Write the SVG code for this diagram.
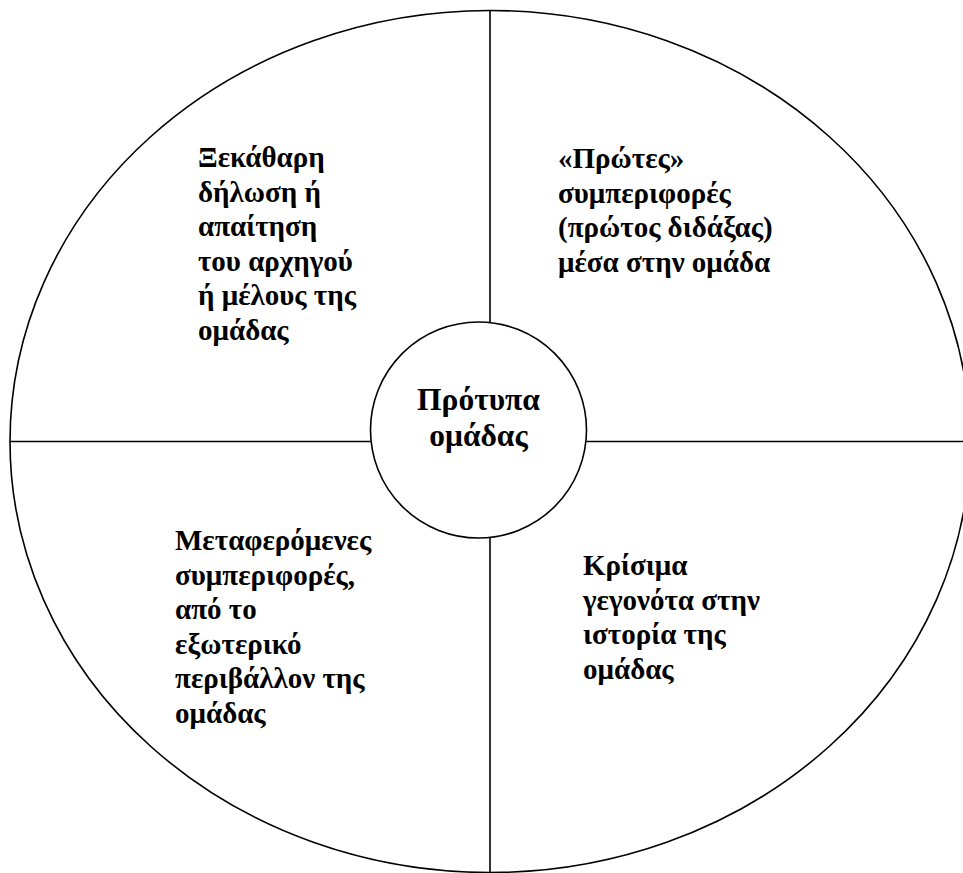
<svg xmlns="http://www.w3.org/2000/svg" width="963" height="873" viewBox="0 0 963 873">
<style>
.ln{stroke:#000;stroke-width:1.6;fill:none}
.t{font-family:"Liberation Serif","Times New Roman",serif;font-weight:bold;font-size:29px;fill:#000}
.c{text-anchor:middle;font-size:31.5px}
</style>
<rect width="963" height="873" fill="#fff"/>
<g id="connectors">
<ellipse class="ln" cx="490" cy="441.5" rx="480" ry="431"/>
<line class="ln" x1="490" y1="10" x2="490" y2="322"/>
<line class="ln" x1="490" y1="537" x2="490" y2="873"/>
<line class="ln" x1="10" y1="441.5" x2="370.5" y2="441.5"/>
<line class="ln" x1="586.5" y1="441.5" x2="963" y2="441.5"/>
</g>
<g id="center">
<circle class="ln" cx="478.5" cy="430" r="108" fill="#fff"/>
<text class="t c" x="478.5" y="410">Πρότυπα</text>
<text class="t c" x="478.5" y="446">ομάδας</text>
</g>
<g id="topleft">
<text class="t" x="198" y="167">Ξεκάθαρη</text>
<text class="t" x="198" y="201.5">δήλωση ή</text>
<text class="t" x="198" y="236">απαίτηση</text>
<text class="t" x="198" y="270.5">του αρχηγού</text>
<text class="t" x="198" y="305">ή μέλους της</text>
<text class="t" x="198" y="339.5">ομάδας</text>
</g>
<g id="topright">
<text class="t" x="558" y="168">«Πρώτες»</text>
<text class="t" x="558" y="202.5">συμπεριφορές</text>
<text class="t" x="558" y="237">(πρώτος διδάξας)</text>
<text class="t" x="558" y="271.5">μέσα στην ομάδα</text>
</g>
<g id="bottomleft">
<text class="t" x="175" y="550">Μεταφερόμενες</text>
<text class="t" x="175" y="584.5">συμπεριφορές,</text>
<text class="t" x="175" y="619">από το</text>
<text class="t" x="175" y="653.5">εξωτερικό</text>
<text class="t" x="175" y="688">περιβάλλον της</text>
<text class="t" x="175" y="722.5">ομάδας</text>
</g>
<g id="bottomright">
<text class="t" x="583" y="575">Κρίσιμα</text>
<text class="t" x="583" y="609.5">γεγονότα στην</text>
<text class="t" x="583" y="644">ιστορία της</text>
<text class="t" x="583" y="678.5">ομάδας</text>
</g>
</svg>
